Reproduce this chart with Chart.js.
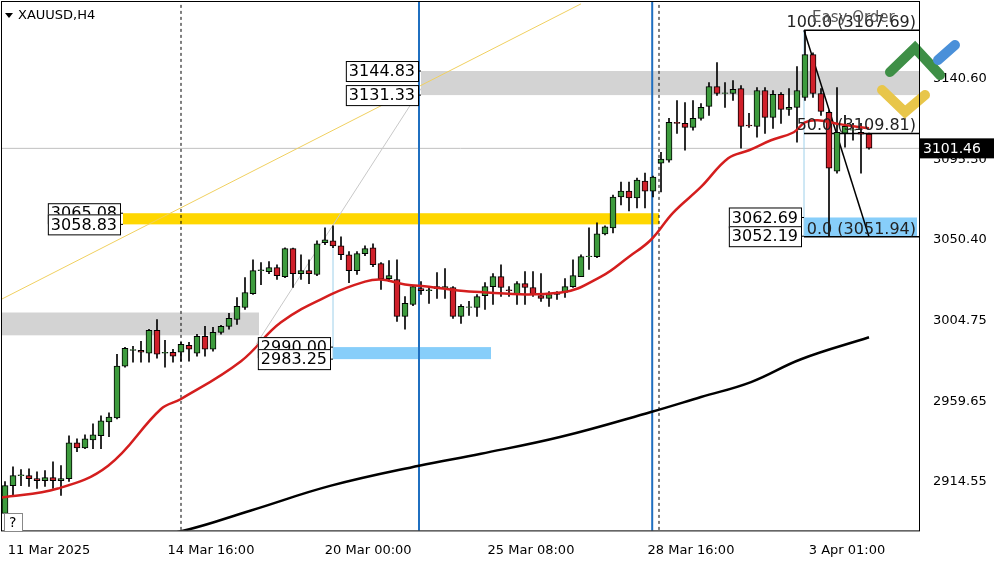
<!DOCTYPE html>
<html><head><meta charset="utf-8">
<script src="https://cdn.jsdelivr.net/npm/chart.js@4.4.1/dist/chart.umd.min.js"></script>
<style>html,body{margin:0;padding:0;background:#fff}#wrap{width:1000px;height:562px}</style>
</head><body><div id="wrap"><canvas id="c" width="1000" height="562"></canvas></div>
<script>
// OHLC per H4 bar, index 0 = 11 Mar 2025 00:00
const opens=[2896.7,2912.3,2917.9,2917.9,2916.2,2915.1,2916.8,2915.1,2916.2,2936.3,2933.5,2938.0,2940.3,2948.0,2950.3,2979.3,2988.2,2988.2,2986.6,2999.4,2986.6,2987.1,2987.1,2991.0,2986.6,2996.0,2988.8,2998.3,3001.6,3005.5,3012.2,3020.0,3032.9,3032.3,3034.6,3029.5,3045.2,3031.2,3032.9,3030.7,3048.5,3049.6,3046.8,3041.8,3032.9,3042.4,3045.7,3036.8,3028.4,3027.9,3007.2,3013.9,3022.8,3021.7,3022.8,3022.8,3023.4,3007.2,3012.2,3012.2,3018.9,3023.9,3029.5,3022.0,3020.0,3025.6,3023.4,3018.9,3017.3,3020.6,3020.6,3023.9,3029.5,3040.7,3040.7,3053.5,3056.9,3074.2,3077.5,3073.6,3083.1,3077.5,3093.2,3094.8,3116.0,3115.5,3113.2,3118.3,3125.0,3136.1,3132.2,3132.2,3135.0,3114.4,3113.8,3133.9,3118.8,3131.7,3123.3,3124.4,3130.0,3154.0,3132.2,3121.6,3088.7,3110.0,3111.6,3110.5,3109.4];
const highs=[2914.6,2922.9,2921.3,2921.8,2920.1,2920.7,2925.7,2923.5,2940.3,2938.6,2940.8,2946.9,2951.4,2953.1,2986.0,2989.9,2990.5,2993.3,3000.0,3005.5,2993.8,2988.8,2992.7,2992.7,2997.1,3001.6,3001.1,3002.2,3008.9,3017.8,3029.0,3039.0,3037.4,3037.9,3036.2,3045.7,3045.5,3041.8,3039.0,3049.6,3056.9,3058.0,3051.9,3043.5,3043.5,3046.8,3047.9,3037.4,3038.5,3039.0,3018.4,3024.5,3026.7,3023.9,3031.8,3034.0,3023.9,3013.9,3015.6,3019.5,3026.2,3031.2,3036.2,3023.9,3026.7,3032.3,3032.3,3031.2,3021.2,3021.2,3028.4,3039.0,3041.8,3056.9,3059.7,3058.0,3075.3,3082.6,3082.6,3084.8,3087.6,3085.9,3099.3,3118.3,3128.3,3127.2,3128.3,3126.6,3138.4,3149.5,3138.4,3139.5,3136.7,3121.1,3135.6,3135.6,3133.9,3132.8,3135.0,3147.3,3167.7,3155.0,3135.0,3122.7,3135.6,3120.0,3115.5,3115.5,3110.0];
const lows=[2893.9,2906.8,2912.3,2911.8,2910.7,2911.8,2910.7,2906.8,2914.6,2931.3,2933.0,2933.0,2933.0,2939.7,2949.7,2978.7,2981.5,2981.5,2981.5,2983.8,2978.8,2981.5,2982.1,2982.1,2984.9,2984.9,2987.7,2997.2,3000.0,3002.7,3011.1,3019.5,3025.0,3031.2,3027.9,3029.0,3023.4,3027.9,3025.6,3030.1,3047.4,3045.7,3039.0,3026.2,3030.7,3041.3,3035.1,3022.3,3026.7,3004.4,3000.0,3013.3,3019.5,3014.5,3017.3,3017.3,3006.1,3003.3,3007.8,3007.2,3011.1,3013.9,3018.4,3018.4,3013.9,3013.9,3018.4,3015.6,3012.8,3016.7,3017.8,3023.4,3029.5,3033.5,3040.1,3052.9,3054.1,3069.7,3066.4,3068.0,3068.0,3074.2,3077.0,3093.7,3109.9,3100.4,3111.6,3117.2,3119.9,3131.1,3124.4,3128.3,3101.5,3113.2,3107.7,3109.9,3112.7,3115.5,3119.9,3104.9,3128.3,3130.0,3119.9,3052.0,3087.6,3102.1,3106.0,3087.6,3101.0];
const closes=[2912.3,2917.9,2918.2,2916.2,2915.1,2916.8,2915.1,2916.2,2936.3,2933.5,2938.6,2940.8,2948.6,2950.8,2979.3,2989.3,2988.5,2987.1,2999.4,2986.0,2986.9,2984.9,2991.6,2988.8,2996.0,2988.8,2998.3,3001.6,3006.1,3012.8,3020.6,3032.9,3033.2,3034.6,3030.1,3045.2,3031.2,3032.9,3031.2,3047.9,3050.2,3046.8,3041.8,3032.9,3042.4,3045.2,3036.2,3028.4,3030.1,3007.2,3014.5,3023.9,3021.7,3022.0,3023.9,3023.9,3007.2,3012.8,3012.5,3018.4,3023.9,3029.5,3023.4,3021.7,3025.6,3023.4,3019.5,3017.3,3019.5,3019.5,3023.9,3030.1,3040.7,3041.0,3053.5,3057.4,3074.2,3077.5,3073.6,3083.7,3077.5,3085.4,3095.4,3116.0,3115.5,3113.2,3118.3,3124.4,3136.1,3132.2,3132.5,3134.5,3113.8,3114.1,3133.9,3118.8,3131.7,3123.3,3124.4,3133.9,3154.0,3132.2,3122.2,3090.4,3110.5,3113.8,3111.9,3109.4,3101.5];
// moving averages: [barIndex, price]
const maRed=[[-0.5,2905.6],[6.6,2910.7],[12.9,2923.5],[19.5,2955.3],[22,2960.9],[29.5,2982.1],[34.5,3003.9],[40.75,3019.5],[45,3026.7],[47,3027.9],[50,3025.1],[53,3023.9],[58,3021.2],[69.5,3020.6],[74.5,3029.5],[78,3040.7],[80.75,3050.2],[83.5,3065.3],[87,3079.8],[90.4,3095.9],[93,3100.4],[95.75,3106.0],[98.6,3110.5],[100,3116.0],[101.6,3117.2],[104.5,3114.9],[108,3112.7]];
const maBlack=[[15,2882.0],[22,2886.7],[30.75,2898.4],[40.75,2912.3],[51.75,2923.5],[59.5,2930.2],[69.5,2939.7],[80.75,2953.6],[87,2962.0],[93.25,2970.4],[99.5,2983.2],[108,2995.5]];
const xTickPos=[5.5,25.75,45.4,65.75,85.75,105.25];
const xTickLabels=['11 Mar 2025','14 Mar 16:00','20 Mar 00:00','25 Mar 08:00','28 Mar 16:00','3 Apr 01:00'];
const yTicks=[3140.60,3095.30,3050.40,3004.75,2959.65,2914.55];
const currentPrice=3101.46;
// zones: [x0, x1, top, bottom, color, labelled]
const zones=[[-1,31.75,3009.4,2996.6,'#d3d3d3',false],[52,115,3144.83,3131.33,'#d3d3d3',true],[14.75,81.75,3065.08,3058.83,'#ffd700',true],[41,60.75,2990.00,2983.25,'#87cefa',true],[99.875,114,3062.69,3052.19,'#87cefa',true]];
const fibLevels=[[3167.69,'100.0 (3167.69)'],[3109.81,'50.0 (3109.81)'],[3051.94,'0.0 (3051.94)']];

const bodies=[],wicks=[],cols=[];
for(let i=0;i<opens.length;i++){
  let lo=Math.min(opens[i],closes[i]),hi=Math.max(opens[i],closes[i]);
  if(hi-lo<0.4){hi=lo+0.4;}
  bodies.push({x:i,y:[lo,hi]});wicks.push({x:i,y:[lows[i],highs[i]]});
  cols.push(closes[i]>=opens[i]?'#3d9b3d':'#d0202a');
}
const overlay={id:'ov',
 beforeDatasetsDraw(ch){
  const c=ch.ctx,xs=ch.scales.x,ys=ch.scales.y,a=ch.chartArea;
  c.save();c.beginPath();c.rect(a.left,a.top,a.right-a.left,a.bottom-a.top);c.clip();
  zones.forEach(z=>{const x0=xs.getPixelForValue(z[0]),x1=xs.getPixelForValue(z[1]),y0=ys.getPixelForValue(z[2]),y1=ys.getPixelForValue(z[3]);c.fillStyle=z[4];c.fillRect(x0,y0,x1-x0,y1-y0);});
  const ln=(x0,p0,x1,p1,col,w,dash)=>{c.beginPath();c.strokeStyle=col;c.lineWidth=w;c.setLineDash(dash||[]);c.moveTo(xs.getPixelForValue(x0),ys.getPixelForValue(p0));c.lineTo(xs.getPixelForValue(x1),ys.getPixelForValue(p1));c.stroke();c.setLineDash([]);};
  ln(-0.5,currentPrice,115,currentPrice,'#c0c0c0',1);
  ln(-0.5,3016.7,72,3182.5,'#f0d060',1);
  ln(31.4,2991.6,52,3135.0,'#c8c8c8',1);
  ln(22,2800,22,3200,'#000',1,[3,3]);ln(81.75,2800,81.75,3200,'#000',1,[3,3]);
  ln(51.75,2800,51.75,3200,'#1f6fc0',2);ln(80.9,2800,80.9,3200,'#1f6fc0',2);
  ln(41,3056.9,41,2983.25,'#9ed0ea',1);ln(99.875,3167.69,99.875,3052.19,'#9ed0ea',1);
  fibLevels.forEach(f=>ln(99.875,f[0],115,f[0],'#000',1.5));
  ln(99.875,3167.69,108,3051.94,'#000',1.5);
  c.restore();
 },
 afterDatasetsDraw(ch){
  const c=ch.ctx,xs=ch.scales.x,ys=ch.scales.y,a=ch.chartArea;
  c.save();
  c.font='16px "DejaVu Sans"';c.textBaseline='middle';
  zones.filter(z=>z[5]).forEach(z=>{const xr=xs.getPixelForValue(z[0]);[z[2],z[3]].forEach(p=>{const y=ys.getPixelForValue(p),t=p.toFixed(2),w=c.measureText(t).width+6;c.fillStyle='#fff';c.fillRect(xr-w-3,y-10,w,20);c.strokeStyle='#000';c.lineWidth=1;c.strokeRect(xr-w-3+0.5,y-10+0.5,w,20);c.beginPath();c.moveTo(xr-3,y);c.lineTo(xr,y);c.stroke();c.fillStyle='#000';c.fillText(t,xr-w,y+1);});});
  c.textAlign='right';c.textBaseline='alphabetic';c.fillStyle='#222';
  fibLevels.forEach(f=>{c.fillText(f[1],a.right-3,ys.getPixelForValue(f[0])-3);});
  c.textAlign='left';c.fillStyle='#555';c.font='15px "DejaVu Sans"';c.fillText('Easy Order',812,22);
  // logo
  c.lineCap='round';c.lineWidth=10;
  c.strokeStyle='#e8c64a';c.beginPath();c.moveTo(882,90);c.lineTo(905,112);c.lineTo(925,95);c.stroke();
  c.strokeStyle='#3e8f46';c.beginPath();c.moveTo(890,72);c.lineTo(915,48);c.lineTo(940,75);c.stroke();
  c.strokeStyle='#4a90d9';c.beginPath();c.moveTo(938,60);c.lineTo(955,45);c.stroke();
  // frame
  c.lineCap='butt';c.strokeStyle='#000';c.lineWidth=1;c.strokeRect(a.left+0.5,a.top+0.5,a.right-a.left,a.bottom-a.top);
  // current price label
  const yp=ys.getPixelForValue(currentPrice);c.fillStyle='#000';c.fillRect(a.right,yp-10,75,20);
  c.fillStyle='#fff';c.font='14px "DejaVu Sans"';c.textBaseline='middle';c.fillText(currentPrice.toFixed(2),a.right+4,yp+1);
  // title
  c.fillStyle='#000';c.beginPath();c.moveTo(5,13);c.lineTo(13,13);c.lineTo(9,18);c.closePath();c.fill();
  c.font='13px "DejaVu Sans"';c.fillText('XAUUSD,H4',18,16);
  // help box
  c.fillStyle='#fff';c.fillRect(4,513,18,18);c.strokeStyle='#888';c.strokeRect(4.5,513.5,18,18);c.fillStyle='#000';c.font='14px "DejaVu Sans"';c.fillText('?',9,523);
  c.restore();
 }};
new Chart(document.getElementById('c'),{
 data:{datasets:[
  {type:'line',data:maBlack.map(p=>({x:p[0],y:p[1]})),borderColor:'#000',borderWidth:2.5,pointRadius:0,tension:0.4,order:3},
  {type:'bar',data:wicks,backgroundColor:'#000',barThickness:1,grouped:false,order:2},
  {type:'bar',data:bodies,backgroundColor:cols,borderColor:'#000',borderWidth:1,borderSkipped:false,barThickness:6,grouped:false,order:1},
  {type:'line',data:maRed.map(p=>({x:p[0],y:p[1]})),borderColor:'#d41e1e',borderWidth:2.5,pointRadius:0,tension:0.4,order:0}
 ]},
 options:{responsive:false,animation:false,devicePixelRatio:1,
  layout:{padding:{left:1,top:1,right:0,bottom:0}},
  plugins:{legend:{display:false},tooltip:{enabled:false}},
  scales:{
   x:{type:'linear',offset:false,bounds:'ticks',min:-0.5,max:114.25,grid:{display:false,offset:false},border:{display:false},
     afterBuildTicks:s=>{s.ticks=xTickPos.map(v=>({value:v}));},
     afterDataLimits:s=>{s.min=-0.5;s.max=114.25;},
     ticks:{autoSkip:false,maxRotation:0,color:'#000',font:{family:'DejaVu Sans',size:13},padding:4,callback:(v,i)=>xTickLabels[i]}},
   y:{position:'right',min:2887.2,max:3184.1,grid:{display:false},border:{display:false},afterFit:s=>{s.width=81;s.paddingTop=0;s.paddingBottom=0;},
     afterBuildTicks:s=>{s.ticks=yTicks.map(v=>({value:v}));},
     ticks:{color:'#000',font:{family:'DejaVu Sans',size:13},padding:6,callback:v=>v.toFixed(2)}}
  }},
 plugins:[overlay]
});
</script></body></html>
